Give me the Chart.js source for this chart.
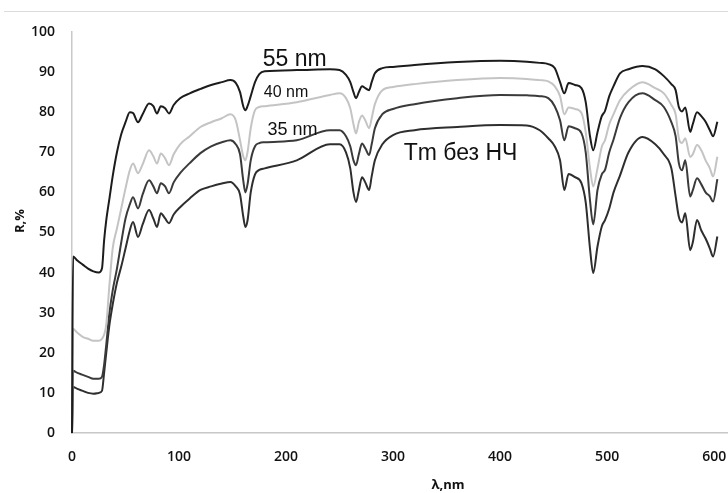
<!DOCTYPE html>
<html>
<head>
<meta charset="utf-8">
<title>R, %</title>
<script src="https://cdn.jsdelivr.net/npm/chart.js@4.4.1/dist/chart.umd.min.js"></script>
<style>
  html, body { margin: 0; padding: 0; background: #fff; }
  canvas { display: block; }
</style>
</head>
<body>
<canvas id="spectra" width="728" height="493"></canvas>
<script>
"use strict";

// wavelength grid, nm
let wavelength = [
  0, 1, 5, 10, 15, 20, 25, 28,
  30, 32, 35, 38, 42, 46, 50, 54, 57,
  61.7, 66, 72, 76, 79.4, 83, 87, 90.6, 95, 101, 110, 120, 130,
  140, 148, 153, 157, 160, 162, 164, 167, 171, 175, 180,
  210, 241, 250, 256, 260, 263, 265.4, 268, 271, 274, 277.6, 280, 283, 290, 300,
  320, 360, 400, 425, 437,
  445, 451, 456, 460, 464, 470, 476, 480, 484, 487, 491, 495, 498, 502, 506, 512,
  520, 533, 545, 553, 560, 564, 567, 570, 573, 577.6, 580, 584, 588, 592, 596, 599, 603
]

// reflectance, %
let r55 = [
  0, 44, 43, 42, 41, 40.3, 40, 41,
  48, 53, 58.5, 64, 70, 74.5, 77.5, 80, 79.8,
  77.5, 79.5, 82.2, 81.5, 79.7, 81.5, 81, 79.7, 81.8, 83.5, 84.7, 85.8, 86.8,
  87.5, 88, 87.3, 85, 81.5, 80.5, 81.5, 84, 87.5, 89.5, 90.2,
  90.5, 90.7, 90.5, 89.3, 87.5, 85, 83.5, 85, 86.5, 86, 85.5, 87.5, 89.7, 91, 91.3,
  91.8, 92.5, 92.8, 92.6, 92.3,
  92, 91, 87.5, 84.7, 87.3, 86.8, 86, 82.5, 74, 70.5, 75, 79, 80.3, 84, 86.5, 89.7,
  90.7, 91.5, 90.7, 89, 87, 85.5, 81.3, 80.2, 81.2, 75.1, 77, 80, 79, 77.6, 75.5, 74, 77.6
]
let r40 = [
  0, 26, 25, 24, 23.5, 23, 23, 23.5,
  24.5, 27, 37, 46, 51, 56, 61, 65.5, 67.2,
  64.8, 67, 70.5, 69, 67.2, 69.7, 68.5, 66.8, 69.5, 72, 74, 76.3, 77.5,
  78.5, 79.5, 78, 73, 69, 68, 70, 76, 80.5, 81.3, 81.5,
  82.5, 84.3, 84.7, 83.5, 81, 77, 74.7, 77.5, 79.2, 78, 76, 78.5, 82, 85.5, 86.3,
  87, 88, 88.5, 88.3, 88,
  87.7, 86.5, 84, 79.5, 81.2, 80.8, 79.8, 75, 66, 61.5, 66, 71.4, 73, 77, 79.5, 83,
  85.5, 87.5, 86, 84.7, 81.8, 79.5, 73.5, 72.3, 73.5, 68.8, 69.5, 71.8, 70.5, 68, 66, 64, 68.9
]
let r35 = [
  0, 15.5, 15, 14.5, 14, 13.5, 13.5, 14,
  17, 22, 30, 35.5, 41, 47.5, 53.5, 57, 58.8,
  56, 59.5, 63, 61.5, 59.8, 62.3, 61.5, 59.8, 62.5, 64.8, 67.3, 69.8, 71.5,
  72.5, 73, 72, 69.5, 63, 60, 62, 68, 71.5, 72.3, 72.5,
  73, 75.5, 75.5, 74, 71.5, 68, 66.8, 69.5, 72.2, 71, 69.3, 72, 76, 79.5, 80.8,
  82, 83.5, 84.3, 84.2, 84,
  83.5, 81.5, 78, 73, 76.5, 76, 74.8, 70, 58, 52, 60.6, 64.5, 65.6, 70, 73.2, 78.5,
  82.5, 84.7, 83, 81.3, 77.5, 74, 67.3, 65.5, 68, 59, 60.5, 63.5, 62, 60, 59, 57.7, 63.3
]
let rTm = [
  0, 11.5, 11, 10.5, 10, 9.8, 10, 10.5,
  15, 20, 27, 32, 37.5, 41.5, 46, 50.5, 52.6,
  48.9, 52, 55.6, 53.5, 51.4, 54.8, 53.5, 52.3, 54.5, 56.3, 58.5, 60.6, 61.5,
  62.2, 62.6, 61.5, 59.5, 54, 51.4, 53, 60, 64.5, 65.6, 66,
  68, 72, 72, 70, 66, 60, 57.6, 60.5, 63.8, 62.5, 60.6, 64, 68, 72, 74.3,
  75.5, 76.3, 76.8, 76.7, 75.5,
  73.5, 71.5, 68, 60.6, 64.6, 63.8, 62.3, 57.5, 46, 39.9, 46.5, 51.5, 53.1, 56, 60, 64.2,
  70, 73.8, 72, 69.5, 66, 59, 53.9, 52.5, 54.8, 45.6, 47.5, 53.1, 50.5, 48.5, 46, 44, 49
]

let seriesNames = ['55 nm', '40 nm', '35 nm', 'Tm без НЧ']
let xTicks = [0, 100, 200, 300, 400, 500, 600]
let yTicks = [0, 10, 20, 30, 40, 50, 60, 70, 80, 90, 100]

function points(values) {
  return wavelength.map(function (w, i) { return { x: w, y: values[i] } })
}

function line(label, values, color) {
  return {
    label: label,
    data: points(values),
    borderColor: color,
    borderWidth: 2,
    pointRadius: 0,
    cubicInterpolationMode: 'monotone',
    clip: 4
  }
}

// curve captions, anchored in data units
let captions = [
  { text: '55 nm', x: 208, y: 93, font: '23px "Liberation Sans", Arial, sans-serif' },
  { text: '40 nm', x: 200, y: 84.9, font: '16px "Liberation Sans", Arial, sans-serif' },
  { text: '35 nm', x: 206, y: 75.5, font: '18px "Liberation Sans", Arial, sans-serif' },
  { text: 'Tm без НЧ', x: 363, y: 69.7, font: '23px "Liberation Sans", Arial, sans-serif' }
]

let captionPlugin = {
  id: 'captions',
  beforeDraw: function (chart) {
    let ctx = chart.ctx
    ctx.save()
    ctx.strokeStyle = '#dcdcdc'
    ctx.lineWidth = 1
    ctx.beginPath()
    ctx.moveTo(4, 11.5)
    ctx.lineTo(728, 11.5)
    ctx.stroke()
    ctx.restore()
  },
  afterDraw: function (chart) {
    let ctx = chart.ctx
    let xs = chart.scales.x, ys = chart.scales.y
    ctx.save()
    ctx.fillStyle = '#111'
    ctx.textAlign = 'center'
    ctx.textBaseline = 'middle'
    captions.forEach(function (c) {
      ctx.font = c.font
      ctx.fillText(c.text, xs.getPixelForValue(c.x), ys.getPixelForValue(c.y))
    })

    // axis titles
    ctx.font = 'bold 13px "Open Sans", sans-serif'
    ctx.fillText('λ,nm', 448, 485)
    ctx.translate(20, 221)
    ctx.rotate(-Math.PI / 2)
    ctx.fillText('R,%', 0, 0)
    ctx.restore()
  }
}

let tickFont = { family: '"Open Sans", sans-serif', size: 14, weight: '600' }

new Chart(document.getElementById('spectra'), {
  type: 'line',
  data: {
    datasets: [
      line(seriesNames[0], r55, '#1c1c1c'),
      line(seriesNames[1], r40, '#c4c4c4'),
      line(seriesNames[2], r35, '#3a3a3a'),
      line(seriesNames[3], rTm, '#2e2e2e')
    ]
  },
  options: {
    responsive: false,
    animation: false,
    layout: { padding: { top: 32, right: 1, left: 0, bottom: 0 } },
    scales: {
      x: {
        type: 'linear',
        min: 0,
        max: 612,
        afterBuildTicks: function (scale) {
          scale.ticks = xTicks.map(function (v) { return { value: v } })
        },
        afterFit: function (scale) {
          scale.height = 60
          scale.paddingLeft = 0
          scale.paddingRight = 0
        },
        grid: { display: false, drawTicks: false },
        border: { display: true, color: '#c8c8c8', width: 1.5 },
        ticks: { color: '#111', font: tickFont, padding: 16, maxRotation: 0 }
      },
      y: {
        min: 0,
        max: 100,
        afterBuildTicks: function (scale) {
          scale.ticks = yTicks.map(function (v) { return { value: v } })
        },
        afterFit: function (scale) { scale.width = 72 },
        grid: { display: false, drawTicks: false },
        border: { display: true, color: '#c8c8c8', width: 1.5 },
        ticks: { color: '#111', font: tickFont, padding: 17 }
      }
    },
    plugins: {
      legend: { display: false },
      tooltip: { enabled: false }
    }
  },
  plugins: [captionPlugin]
});
</script>
</body>
</html>
